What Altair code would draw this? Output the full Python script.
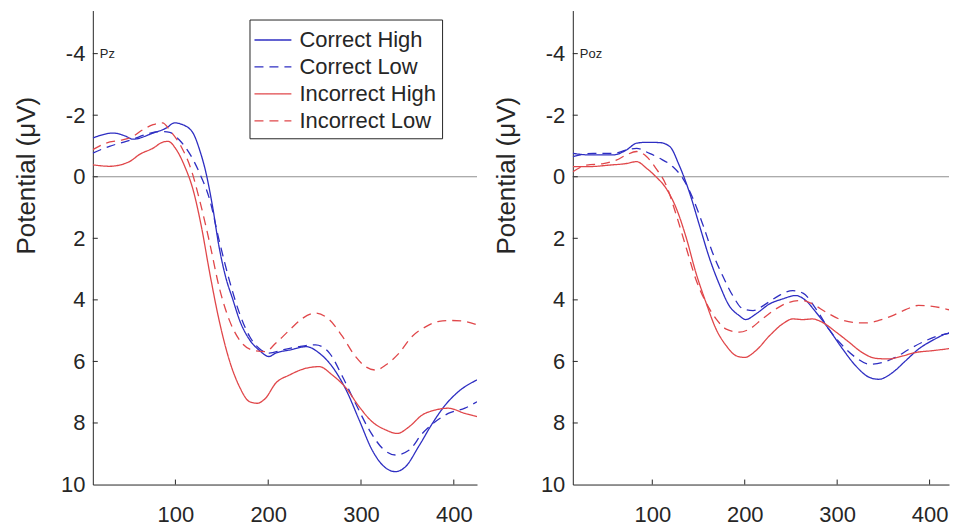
import altair as alt
import pandas as pd

conditions = ["Correct High", "Correct Low", "Incorrect High", "Incorrect Low"]
colors = ["#2e2ec2", "#2e2ec2", "#e0474a", "#e0474a"]
dashes = [[1, 0], [9, 6], [1, 0], [9, 6]]

x_ticks = [100, 200, 300, 400]
y_ticks = [-4, -2, 0, 2, 4, 6, 8]
y_labels = [-4, -2, 0, 2, 4, 6, 8, 10]

# ---- Pz ----
pz_ch_x = [11, 33, 47, 54, 76, 90, 99, 108, 119, 126, 133, 140, 147, 154, 162, 169, 180, 190, 201, 208, 223, 241, 255, 269, 284, 298, 312, 327, 337, 348, 362, 377, 391, 405, 425]
pz_ch_y = [-1.26, -1.42, -1.31, -1.22, -1.42, -1.58, -1.75, -1.69, -1.42, -0.88, -0.12, 0.96, 2.27, 3.24, 4.0, 4.65, 5.3, 5.63, 5.84, 5.73, 5.63, 5.52, 5.73, 6.17, 6.93, 7.9, 8.88, 9.47, 9.58, 9.42, 8.77, 8.01, 7.41, 6.98, 6.6]
pz_cl_x = [11, 29, 47, 54, 68, 83, 94, 104, 115, 126, 137, 147, 158, 169, 180, 190, 201, 215, 233, 251, 266, 280, 294, 309, 323, 337, 352, 366, 380, 394, 412, 425]
pz_cl_y = [-0.77, -0.99, -1.15, -1.22, -1.37, -1.47, -1.44, -1.2, -0.77, -0.12, 0.75, 2.05, 3.35, 4.43, 5.19, 5.57, 5.73, 5.63, 5.52, 5.46, 5.73, 6.49, 7.36, 8.23, 8.82, 9.04, 8.88, 8.34, 7.96, 7.69, 7.52, 7.31]
pz_ih_x = [11, 29, 51, 61, 76, 86, 92, 101, 110, 119, 128, 137, 147, 158, 169, 180, 188, 197, 208, 223, 241, 255, 269, 284, 298, 312, 327, 339, 352, 366, 380, 394, 412, 425]
pz_ih_y = [-0.39, -0.34, -0.5, -0.72, -0.93, -1.12, -1.15, -0.88, -0.34, 0.42, 1.62, 3.13, 4.65, 5.95, 6.82, 7.31, 7.36, 7.2, 6.71, 6.44, 6.22, 6.17, 6.44, 6.87, 7.47, 7.96, 8.23, 8.34, 8.12, 7.74, 7.58, 7.52, 7.69, 7.79]
pz_il_x = [11, 25, 43, 54, 65, 76, 86, 95, 106, 117, 126, 137, 147, 158, 169, 183, 197, 208, 223, 237, 251, 266, 280, 294, 305, 316, 327, 341, 355, 370, 384, 398, 412, 425]
pz_il_y = [-0.88, -1.09, -1.2, -1.31, -1.53, -1.69, -1.75, -1.47, -0.99, -0.23, 0.75, 2.16, 3.57, 4.65, 5.3, 5.63, 5.68, 5.41, 4.98, 4.6, 4.43, 4.65, 5.19, 5.84, 6.17, 6.28, 6.11, 5.73, 5.19, 4.87, 4.7, 4.67, 4.7, 4.81]

# ---- Poz ----
poz_ch_x = [14, 32, 58, 72, 83, 94, 108, 119, 129, 140, 151, 162, 173, 183, 194, 201, 212, 227, 241, 255, 266, 277, 291, 306, 320, 335, 345, 360, 374, 388, 406, 417, 430]
poz_ch_y = [-0.76, -0.71, -0.71, -0.87, -1.09, -1.12, -1.11, -0.98, -0.38, 0.49, 1.58, 2.66, 3.53, 4.18, 4.51, 4.64, 4.46, 4.13, 3.97, 3.86, 4.02, 4.4, 4.95, 5.6, 6.14, 6.52, 6.58, 6.36, 5.98, 5.6, 5.27, 5.11, 5.03]
poz_cl_x = [14, 36, 58, 72, 83, 97, 108, 122, 133, 144, 155, 165, 176, 187, 198, 209, 223, 237, 252, 263, 277, 291, 306, 320, 335, 349, 363, 378, 392, 410, 430]
poz_cl_y = [-0.65, -0.76, -0.76, -0.87, -0.92, -0.76, -0.6, -0.33, 0.05, 0.71, 1.58, 2.45, 3.21, 3.86, 4.29, 4.35, 4.13, 3.86, 3.7, 3.78, 4.29, 4.95, 5.49, 5.87, 6.09, 6.03, 5.87, 5.6, 5.38, 5.16, 5.05]
poz_ih_x = [14, 32, 54, 72, 83, 94, 104, 115, 126, 137, 147, 158, 169, 180, 191, 200, 212, 227, 241, 252, 263, 273, 284, 299, 313, 327, 342, 356, 371, 385, 403, 417, 430]
poz_ih_y = [-0.33, -0.33, -0.38, -0.43, -0.49, -0.27, 0.0, 0.38, 1.03, 2.01, 3.1, 4.08, 4.95, 5.49, 5.82, 5.87, 5.65, 5.16, 4.78, 4.62, 4.64, 4.62, 4.73, 5.05, 5.38, 5.71, 5.9, 5.92, 5.82, 5.71, 5.65, 5.6, 5.54]
poz_il_x = [14, 29, 47, 61, 72, 83, 94, 104, 115, 126, 137, 147, 158, 169, 180, 194, 205, 219, 234, 248, 263, 273, 288, 302, 317, 331, 345, 360, 374, 388, 403, 417, 430]
poz_il_y = [-0.16, -0.38, -0.43, -0.54, -0.71, -0.82, -0.65, -0.27, 0.27, 1.25, 2.34, 3.32, 4.08, 4.62, 4.95, 5.05, 4.95, 4.62, 4.29, 4.08, 4.02, 4.13, 4.4, 4.62, 4.73, 4.75, 4.67, 4.51, 4.32, 4.18, 4.21, 4.29, 4.4]


def frame(series):
    rows = []
    for cond, xs, ys in series:
        for i, (a, b) in enumerate(zip(xs, ys)):
            rows.append({"cond": cond, "t": a, "v": b, "i": i})
    return pd.DataFrame(rows)


pz_df = frame([
    ("Correct High", pz_ch_x, pz_ch_y),
    ("Correct Low", pz_cl_x, pz_cl_y),
    ("Incorrect High", pz_ih_x, pz_ih_y),
    ("Incorrect Low", pz_il_x, pz_il_y),
])
poz_df = frame([
    ("Correct High", poz_ch_x, poz_ch_y),
    ("Correct Low", poz_cl_x, poz_cl_y),
    ("Incorrect High", poz_ih_x, poz_ih_y),
    ("Incorrect Low", poz_il_x, poz_il_y),
])

H = 475
INK = "#262626"
FONT = "Liberation Sans"


def panel(df, label, x_domain, width, show_legend):
    xs = alt.Scale(domain=x_domain, nice=False, zero=False)
    ys = alt.Scale(domain=[-5.4, 10], reverse=True, nice=False, zero=False)
    if show_legend:
        leg = alt.Legend(
            title=None, orient="none", legendX=157, legendY=9,
            symbolType="M-1.37,0H1.37", symbolSize=729, symbolStrokeWidth=1.3,
            symbolOffset=3,
            labelFontSize=22, labelFont=FONT, labelColor=INK,
            fillColor="white", strokeColor=INK, padding=6,
            labelOffset=12, rowPadding=1,
        )
    else:
        leg = None
    lines = alt.Chart(df).mark_line(clip=True, strokeWidth=1.3, interpolate="monotone").encode(
        x=alt.X("t:Q", scale=xs, axis=alt.Axis(
            values=x_ticks, ticks=False, grid=False, title=None,
            labelFontSize=22, labelPadding=20, labelFont=FONT, labelColor=INK,
            domainColor=INK)),
        y=alt.Y("v:Q", scale=ys, axis=alt.Axis(
            values=y_labels, ticks=False, grid=False,
            labelExpr="toString(datum.value)",
            title="Potential (μV)", titleFontSize=26, titleFontWeight="normal",
            titleFont=FONT, titleColor=INK, titleX=-66, titleY=165, titleAngle=270,
            titleAlign="center", titleBaseline="middle",
            labelFontSize=22, labelPadding=8, labelFont=FONT, labelColor=INK,
            domainColor=INK)),
        color=alt.Color("cond:N", scale=alt.Scale(domain=conditions, range=colors), legend=leg),
        strokeDash=alt.StrokeDash("cond:N", scale=alt.Scale(domain=conditions, range=dashes), legend=leg),
        order="i:Q",
    )
    zero = alt.Chart(pd.DataFrame({"v": [0]})).mark_rule(color="#8f8f8f", strokeWidth=1).encode(
        y=alt.Y("v:Q", scale=ys))
    yt = alt.Chart(pd.DataFrame({"v": y_ticks})).mark_rule(color=INK, strokeWidth=1).encode(
        y=alt.Y("v:Q", scale=ys), x=alt.value(0), x2=alt.value(5))
    xt = alt.Chart(pd.DataFrame({"t": x_ticks})).mark_rule(color=INK, strokeWidth=1).encode(
        x=alt.X("t:Q", scale=xs), y=alt.value(H), y2=alt.value(H - 5))
    txt = alt.Chart(pd.DataFrame({"label": [label], "v": [-4]})).mark_text(
        align="left", baseline="middle", fontSize=13, font=FONT, color=INK).encode(
        x=alt.value(7), y=alt.Y("v:Q", scale=ys), text="label:N")
    return alt.layer(zero, lines, yt, xt, txt).properties(width=width, height=H)


left = panel(pz_df, "Pz", [11, 425], 385, True)
right = panel(poz_df, "Poz", [14, 421], 377, False)

chart = alt.hconcat(left, right, spacing=16).resolve_scale(
    color="independent", strokeDash="independent"
).resolve_legend(color="independent", strokeDash="independent").properties(
    padding={"left": 6, "top": 2, "right": 0, "bottom": 0}
).configure_view(stroke=None)

chart.save("out.html", embed_options={"renderer": "svg", "actions": False})
